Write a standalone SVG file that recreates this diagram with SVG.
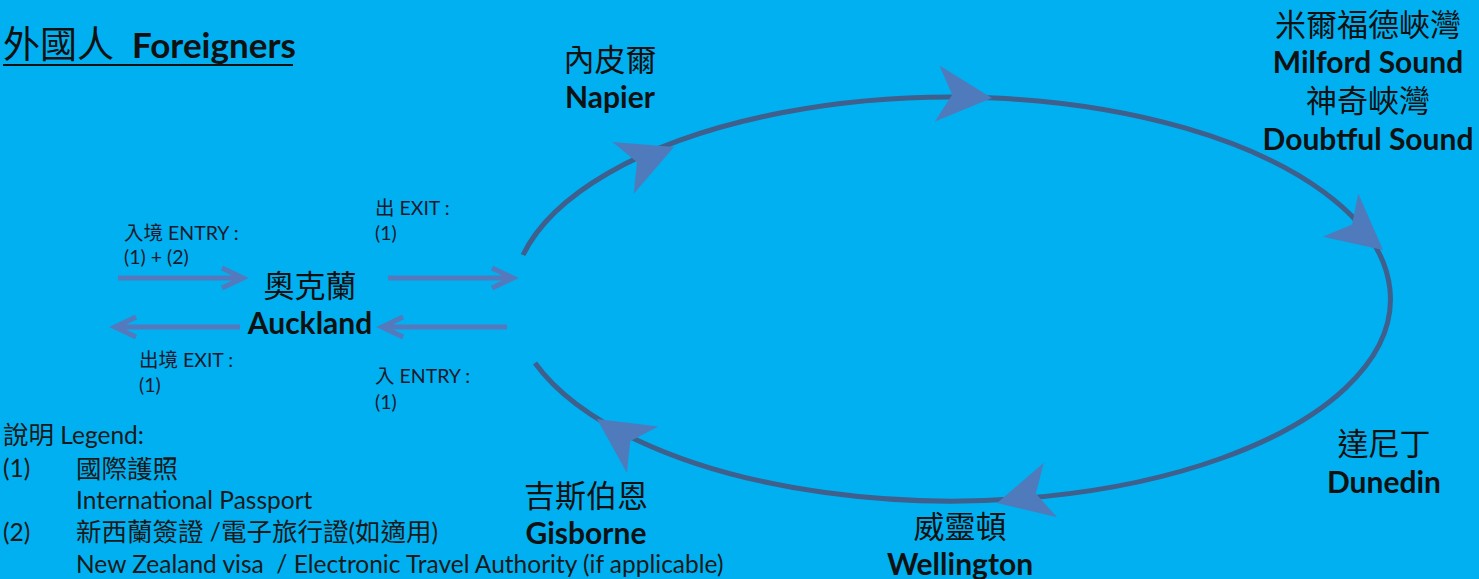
<svg xmlns="http://www.w3.org/2000/svg" xmlns:xlink="http://www.w3.org/1999/xlink" width="1479" height="579" viewBox="0 0 1479 579">
  <style>
    .t { font-family: Lato, "Noto Sans CJK TC", sans-serif; fill: #111; }
    .zh { font-family: "Noto Sans CJK TC", sans-serif; fill: #111; }
    .place { font-size: 30px; font-weight: bold; text-anchor: middle; }
    .placezh { font-size: 31px; text-anchor: middle; }
    .lbl { font-size: 19.5px; fill: #1a1a2e; }
    .leg { font-size: 24.5px; fill: #1a1a1a; }
    .legzh { font-size: 25.5px; }
    .loop { fill: none; stroke: #3f5f8c; stroke-width: 5; }
    .head { fill: #4f7bbc; }
    .sa { fill: none; stroke: #5479bc; stroke-width: 5; stroke-linejoin: miter; }
  </style>
  <defs>
    <path id="stealth" d="M0,0 L-55,-28 L-40,0 L-55,28 Z"/>
  </defs>
  <rect x="0" y="0" width="1479" height="579" fill="#00b0f0"/>

  <g id="connectors">
    <path class="loop" d="M 523 255 A 439 202 0 1 1 535 363"/>
    <use class="head" href="#stealth" transform="translate(674,147) rotate(-22.3)"/>
    <use class="head" href="#stealth" transform="translate(992,98) rotate(4.7)"/>
    <use class="head" href="#stealth" transform="translate(1383,250) rotate(39.4)"/>
    <use class="head" href="#stealth" transform="translate(997,503) rotate(166.3)"/>
    <use class="head" href="#stealth" transform="translate(597,419) rotate(214)"/>
    <path class="sa" d="M118 278 H241 M222 268 L243 278 L222 288"/>
    <path class="sa" d="M388 278 H511 M492 268 L513 278 L492 288"/>
    <path class="sa" d="M240 327 H117 M136 317 L115 327 L136 337"/>
    <path class="sa" d="M507 327 H384 M403 317 L382 327 L403 337"/>
  </g>

  <g id="title">
    <text class="zh" x="3" y="58" font-size="37">外國人</text>
    <text class="t" x="132" y="58" font-size="35" font-weight="bold">Foreigners</text>
    <line x1="3" y1="65" x2="293" y2="65" stroke="#111" stroke-width="2"/>
  </g>

  <g id="auckland">
    <text class="zh placezh" x="310" y="297">奧克蘭</text>
    <text class="t place" x="310" y="334">Auckland</text>
  </g>

  <g id="labels">
    <text class="t lbl" x="124" y="240">入境 ENTRY :</text>
    <text class="t lbl" x="124" y="264">(1) + (2)</text>
    <text class="t lbl" x="375" y="215">出 EXIT :</text>
    <text class="t lbl" x="375" y="240">(1)</text>
    <text class="t lbl" x="139" y="367">出境 EXIT :</text>
    <text class="t lbl" x="139" y="392">(1)</text>
    <text class="t lbl" x="375" y="383">入 ENTRY :</text>
    <text class="t lbl" x="375" y="409">(1)</text>
  </g>

  <g id="napier">
    <text class="zh placezh" x="610" y="71">內皮爾</text>
    <text class="t place" x="610" y="108">Napier</text>
  </g>

  <g id="milford">
    <text class="zh placezh" x="1368" y="36">米爾福德峽灣</text>
    <text class="t place" x="1368" y="73">Milford Sound</text>
    <text class="zh placezh" x="1368" y="112">神奇峽灣</text>
    <text class="t place" x="1368" y="150">Doubtful Sound</text>
  </g>

  <g id="dunedin">
    <text class="zh placezh" x="1384" y="455">達尼丁</text>
    <text class="t place" x="1384" y="493">Dunedin</text>
  </g>

  <g id="wellington">
    <text class="zh placezh" x="960" y="538">威靈頓</text>
    <text class="t place" x="960" y="575">Wellington</text>
  </g>

  <g id="gisborne">
    <text class="zh placezh" x="586" y="507">吉斯伯恩</text>
    <text class="t place" x="586" y="544">Gisborne</text>
  </g>

  <g id="legend">
    <text class="t leg" x="3" y="444"><tspan class="legzh">說明</tspan> Legend:</text>
    <text class="t leg" x="3" y="477">(1)</text>
    <text class="zh leg legzh" x="76" y="478">國際護照</text>
    <text class="t leg" x="76" y="509">International Passport</text>
    <text class="t leg" x="3" y="541">(2)</text>
    <text class="t leg" x="76" y="541"><tspan class="legzh">新西蘭簽證</tspan> /<tspan class="legzh">電子旅行證</tspan>(<tspan class="legzh">如適用</tspan>)</text>
    <text class="t leg" x="76" y="573" xml:space="preserve">New Zealand visa  / Electronic Travel Authority (if applicable)</text>
  </g>
</svg>
